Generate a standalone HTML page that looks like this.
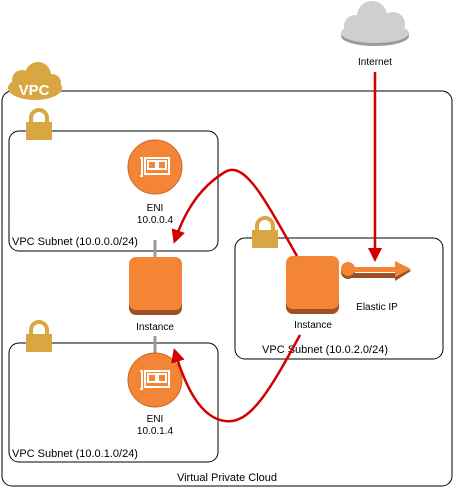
<!DOCTYPE html>
<html><head><style>
html,body{margin:0;padding:0;background:#fff;}
svg{display:block;font-family:"Liberation Sans",sans-serif;}
</style></head><body>
<svg width="454" height="489" viewBox="0 0 454 489">
<defs>
<marker id="ah" markerWidth="18" markerHeight="16" refX="10" refY="7" orient="auto" markerUnits="userSpaceOnUse">
<path d="M0,0 L14,7 L0,14 Z" fill="#d40000"/>
</marker>
</defs>
<rect x="2" y="91" width="450" height="395" rx="10" fill="none" stroke="#000" stroke-width="1"/>
<text x="227" y="481" font-size="11" text-anchor="middle">Virtual Private Cloud</text>
<g fill="#d9a741">
<ellipse cx="35" cy="88" rx="27" ry="12"/>
<circle cx="22" cy="80" r="10"/>
<circle cx="38" cy="75" r="13"/>
<circle cx="52" cy="83" r="9"/>
</g>
<text x="34" y="95" font-size="15" fill="#fff" text-anchor="middle" font-weight="bold">VPC</text>
<rect x="9" y="131" width="209" height="120" rx="10" fill="none" stroke="#000"/>
<text x="12" y="245" font-size="11">VPC Subnet (10.0.0.0/24)</text>
<rect x="9" y="343" width="209" height="119" rx="10" fill="none" stroke="#000"/>
<text x="12" y="457" font-size="11">VPC Subnet (10.0.1.0/24)</text>
<rect x="235" y="238" width="208" height="121" rx="10" fill="none" stroke="#000"/>
<text x="325" y="353" font-size="11" text-anchor="middle">VPC Subnet (10.0.2.0/24)</text>
<g>
<g transform="translate(26,110)"><path d="M5,12 V8 a8,8 0 0 1 16,0 V12" fill="none" stroke="#d9a741" stroke-width="4"/><rect x="0" y="12" width="26" height="18" fill="#d9a741"/></g>
<g transform="translate(26,322)"><path d="M5,12 V8 a8,8 0 0 1 16,0 V12" fill="none" stroke="#d9a741" stroke-width="4"/><rect x="0" y="12" width="26" height="18" fill="#d9a741"/></g>
<g transform="translate(252,218)"><path d="M5,12 V8 a8,8 0 0 1 16,0 V12" fill="none" stroke="#d9a741" stroke-width="4"/><rect x="0" y="12" width="26" height="18" fill="#d9a741"/></g>
</g>
<line x1="155" y1="240" x2="155" y2="258" stroke="#999" stroke-width="3"/>
<line x1="155" y1="336" x2="155" y2="355" stroke="#999" stroke-width="3"/>
<circle cx="155" cy="167" r="27" fill="#f58536" stroke="#c96a2a"/>
<g fill="none" stroke="#fff" stroke-width="2"><path d="M140,158 h2 v18 h-2"/><rect x="145" y="158" width="24" height="16"/><rect x="148" y="161" width="8" height="8"/><rect x="158" y="161" width="8" height="8"/></g>
<text x="155" y="211" font-size="10" text-anchor="middle">ENI</text>
<text x="155" y="223" font-size="10" text-anchor="middle">10.0.0.4</text>
<circle cx="155" cy="380" r="27" fill="#f58536" stroke="#c96a2a"/>
<g fill="none" stroke="#fff" stroke-width="2"><path d="M140,371 h2 v18 h-2"/><rect x="145" y="371" width="24" height="16"/><rect x="148" y="374" width="8" height="8"/><rect x="158" y="374" width="8" height="8"/></g>
<text x="155" y="422" font-size="10" text-anchor="middle">ENI</text>
<text x="155" y="434" font-size="10" text-anchor="middle">10.0.1.4</text>
<rect x="129" y="260" width="53" height="55" rx="7" fill="#9d5025"/>
<rect x="129" y="257" width="53" height="53" rx="7" fill="#f58536"/>
<text x="155" y="330" font-size="10" text-anchor="middle">Instance</text>
<rect x="286" y="259" width="53" height="55" rx="7" fill="#9d5025"/>
<rect x="286" y="256" width="53" height="53" rx="7" fill="#f58536"/>
<text x="313" y="328" font-size="10" text-anchor="middle">Instance</text>
<g>
<path d="M350,273 h45 v-10 l16,8 l-16,10 v-3 h-45 z" fill="#9d5025"/>
<circle cx="348" cy="272" r="7" fill="#9d5025"/>
<path d="M350,267 h45 v-6 l16,8 l-16,8 v-5 h-45 z" fill="#f58536"/>
<circle cx="348" cy="269" r="7" fill="#f58536"/>
</g>
<text x="377" y="310" font-size="10" text-anchor="middle">Elastic IP</text>
<g fill="#9a9a9a"><ellipse cx="375" cy="36" rx="34" ry="10"/></g>
<g fill="#cfcfcf">
<ellipse cx="375" cy="33" rx="34" ry="10"/>
<circle cx="355" cy="26" r="11"/>
<circle cx="372" cy="16" r="15"/>
<circle cx="393" cy="24" r="12"/>
</g>
<text x="375" y="65" font-size="10" text-anchor="middle">Internet</text>
<g fill="none" stroke="#d40000" stroke-width="2.5">
<line x1="375" y1="72" x2="375" y2="258" marker-end="url(#ah)"/>
<path d="M297,256 C265,200 245,160 225,172 C195,190 182,220 175,240" marker-end="url(#ah)"/>
<path d="M300,335 C270,390 250,425 225,421 C200,418 185,385 175,352" marker-end="url(#ah)"/>
</g>
</svg>
</body></html>
